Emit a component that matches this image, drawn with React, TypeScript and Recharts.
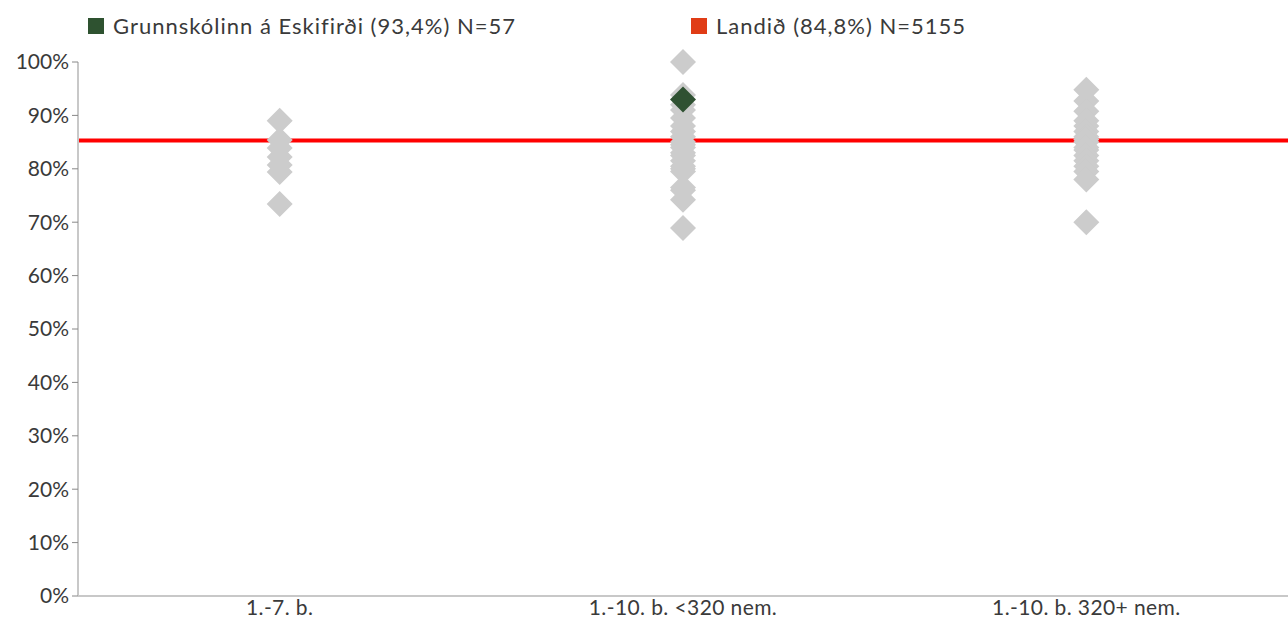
import React from 'react';
import { ScatterChart, Scatter, XAxis, YAxis, ReferenceLine } from 'recharts';

// Flokkar (stærð skóla) og tölur lesnar af myndinni
const categories = ['1.-7. b.', '1.-10. b. <320 nem.', '1.-10. b. 320+ nem.'];
const group1 = [89, 85.4, 83.9, 82.2, 80.7, 79.4, 73.4];
const group2 = [100, 93.8, 92, 91, 89.5, 88, 87, 86, 85, 84.5, 84, 83, 82.5, 81.5, 80.5, 80, 79.5, 76.5, 76, 74.2, 68.9];
const group3 = [94.8, 92.7, 90.8, 89, 88, 87, 86, 85.5, 85, 84, 83.5, 82.5, 81.5, 80.5, 79.5, 78, 70];
const schoolCategory = 1;
const schoolValue = 93;
const nationalValue = 85.3;
const yTicks = [0, 10, 20, 30, 40, 50, 60, 70, 80, 90, 100];

const schoolLabel = 'Grunnskólinn á Eskifirði (93,4%) N=57';
const nationalLabel = 'Landið (84,8%) N=5155';

const FONT = 'Lato, "Open Sans", sans-serif';
const TEXT = '#3a3a3a';
const FS = 22;

const otherSchools = [group1, group2, group3].flatMap((vals, i) =>
  vals.map(v => ({ x: i + 0.5, y: v }))
);
const school = [{ x: schoolCategory + 0.5, y: schoolValue }];

const Diamond = (props: any) => {
  const { cx, cy, fill } = props;
  const r = 13;
  return <path d={`M${cx},${cy - r}L${cx + r},${cy}L${cx},${cy + r}L${cx - r},${cy}Z`} fill={fill} />;
};

const App: React.FC = () => {
  return (
    <div style={{ position: 'absolute', left: 0, top: 0, width: 1288, height: 622, fontFamily: FONT }}>
      {/* Skýringar */}
      <div style={{ position: 'absolute', left: 88, top: 12, display: 'flex', alignItems: 'center', fontSize: FS, color: TEXT, letterSpacing: 1 }}>
        <span style={{ width: 16, height: 16, background: '#2e5230', marginRight: 9, display: 'inline-block' }} />
        {schoolLabel}
      </div>
      <div style={{ position: 'absolute', left: 691, top: 12, display: 'flex', alignItems: 'center', fontSize: FS, color: TEXT, letterSpacing: 1 }}>
        <span style={{ width: 16, height: 16, background: '#e03c16', marginRight: 9, display: 'inline-block' }} />
        {nationalLabel}
      </div>
      <ScatterChart width={1288} height={622} margin={{ top: 62, right: 0, left: 0, bottom: 0 }}>
        <XAxis
          type="number"
          dataKey="x"
          domain={[0, 3]}
          ticks={[0.5, 1.5, 2.5]}
          tickFormatter={(v: number) => categories[Math.floor(v)]}
          height={26}
          tickLine={false}
          tickSize={0}
          tickMargin={4}
          axisLine={{ stroke: '#c8c8c8', strokeWidth: 2 }}
          tick={{ fill: TEXT, fontSize: FS - 1, fontFamily: FONT, letterSpacing: 0.4 }}
        />
        <YAxis
          type="number"
          dataKey="y"
          domain={[0, 100]}
          ticks={yTicks}
          width={78}
          tickSize={6}
          tickMargin={3}
          tickFormatter={(v: number) => `${v}%`}
          axisLine={{ stroke: '#c8c8c8', strokeWidth: 2 }}
          tickLine={{ stroke: '#888888' }}
          tick={{ fill: TEXT, fontSize: FS - 1, fontFamily: FONT }}
        />
        <Scatter data={otherSchools} fill="#cccccc" shape={Diamond} isAnimationActive={false} />
        <ReferenceLine y={nationalValue} stroke="#ff0000" strokeWidth={4} />
        <Scatter data={school} fill="#2f5132" shape={Diamond} isAnimationActive={false} />
      </ScatterChart>
    </div>
  );
};

export default App;
